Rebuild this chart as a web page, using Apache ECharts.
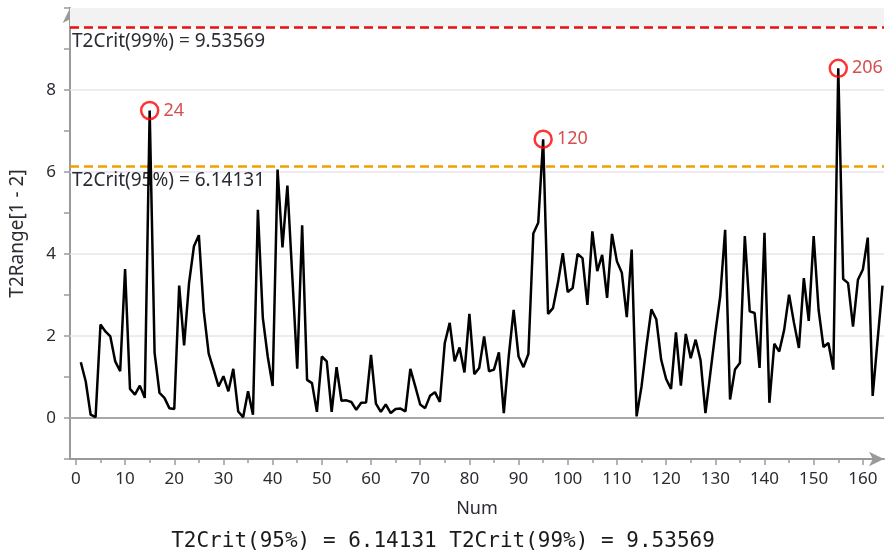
<!DOCTYPE html>
<html>
<head>
<meta charset="utf-8">
<script src="https://cdn.jsdelivr.net/npm/echarts@6/dist/echarts.min.js"></script>
<style>
html,body{margin:0;padding:0;background:#fff;}
#chart{width:886px;height:554px;}
</style>
</head>
<body>
<div id="chart"></div>
<script>
// ---- data ----
const t2Values = [
1.36,0.89,0.08,0.02,2.28,2.11,1.99,1.38,1.14,3.63,
0.71,0.57,0.79,0.49,7.50,1.59,0.61,0.49,0.24,0.22,
3.23,1.77,3.29,4.19,4.46,2.60,1.57,1.18,0.77,1.02,
0.65,1.20,0.16,0.02,0.65,0.08,5.08,2.45,1.50,0.78,
6.06,4.16,5.67,3.45,1.20,4.70,0.93,0.85,0.15,1.50,
1.38,0.15,1.24,0.42,0.43,0.39,0.20,0.37,0.38,1.54,
0.35,0.15,0.33,0.12,0.22,0.23,0.16,1.20,0.77,0.33,
0.24,0.54,0.63,0.39,1.83,2.32,1.38,1.72,1.11,2.54,
1.07,1.22,1.99,1.14,1.18,1.60,0.12,1.50,2.64,1.50,
1.24,1.56,4.50,4.76,6.80,2.54,2.68,3.29,4.02,3.07,
3.17,4.00,3.90,2.76,4.55,3.58,3.98,2.93,4.49,3.82,
3.54,2.46,4.11,0.04,0.77,1.75,2.65,2.41,1.42,0.95,
0.71,2.09,0.79,2.05,1.46,1.91,1.41,0.12,1.10,2.07,
2.97,4.59,0.45,1.18,1.34,4.44,2.60,2.56,1.22,4.52,
0.37,1.81,1.62,2.15,3.01,2.32,1.71,3.41,2.37,4.44,
2.64,1.73,1.83,1.18,8.53,3.39,3.29,2.23,3.37,3.62,
4.40,0.54,1.90,3.23
];
const outlierNums = [15, 95, 155];
const outlierLabels = ['24', '120', '206'];
const crit95 = 6.14131;
const crit99 = 9.53569;
const xLabelTicks = [0,10,20,30,40,50,60,70,80,90,100,110,120,130,140,150,160];
const xMinorTicks = [5,15,25,35,45,55,65,75,85,95,105,115,125,135,145,155];
const yGridValues = [2,4,6,8];
const xName = 'Num';
const yName = 'T2Range[1 - 2]';
const footerText = 'T2Crit(95%) = 6.14131 T2Crit(99%) = 9.53569';

// ---- build ----
const lineData = t2Values.map((v, i) => [i + 1, v]);
const outlierData = outlierNums.map((n, i) => ({ value: [n, t2Values[n - 1]], label: { formatter: outlierLabels[i] } }));

const font = 'Noto Sans';
const chart = echarts.init(document.getElementById('chart'), null, { renderer: 'canvas' });
const axisGray = '#9a9a9a';
const textCol = '#2b2b33';

chart.setOption({
  animation: false,
  backgroundColor: '#ffffff',
  textStyle: { fontFamily: font },
  title: {
    text: footerText,
    left: 'center',
    bottom: 2,
    padding: 0,
    textStyle: { fontFamily: 'DejaVu Sans Mono', fontSize: 21, fontWeight: 'normal', color: '#1a1a1a' }
  },
  grid: { left: 70, right: 2, top: 8, bottom: 95, containLabel: false },
  xAxis: [{
    type: 'value', min: -1.2, max: 164.3,
    name: xName, nameLocation: 'middle', nameGap: 41,
    nameTextStyle: { fontFamily: font, fontSize: 18, color: textCol },
    axisLine: { onZero: false, symbol: ['none', 'arrow'], symbolSize: [11, 15], lineStyle: { color: axisGray, width: 2 } },
    axisTick: { customValues: xLabelTicks, length: 6, lineStyle: { color: axisGray, width: 1.5 } },
    axisLabel: { customValues: xLabelTicks, color: textCol, fontSize: 17, margin: 12, fontFamily: font },
    splitLine: { show: false }
  }, {
    type: 'value', min: -1.2, max: 164.3, position: 'bottom', gridIndex: 0,
    axisLine: { show: false, onZero: false },
    axisTick: { customValues: xMinorTicks, length: 4, lineStyle: { color: axisGray, width: 1.5 } },
    axisLabel: { show: false },
    splitLine: { show: false }
  }],
  yAxis: {
    type: 'value', min: -1, max: 10, interval: 1,
    name: yName, nameLocation: 'middle', nameGap: 43,
    nameTextStyle: { fontFamily: font, fontSize: 19, color: textCol },
    axisLine: { show: true, onZero: false, symbol: ['none', 'arrow'], symbolSize: [11, 15], lineStyle: { color: axisGray, width: 2 } },
    axisTick: { show: true, length: 6, lineStyle: { color: axisGray, width: 1.5 } },
    axisLabel: {
      color: textCol, fontSize: 17, margin: 14, fontFamily: font,
      formatter: v => (v >= 0 && v <= 8 && v % 2 === 0) ? String(v) : ''
    },
    splitLine: { show: false }
  },
  series: [{
    type: 'line',
    data: lineData,
    showSymbol: false,
    symbol: 'none',
    lineStyle: { color: '#000', width: 2.5 },
    z: 5,
    markArea: {
      silent: true,
      itemStyle: { color: '#f2f2f2' },
      data: [[{ yAxis: crit99 }, { yAxis: 10 }]]
    },
    markLine: {
      silent: true,
      symbol: ['none', 'none'],
      data: [
        ...yGridValues.map(v => ({ yAxis: v, lineStyle: { color: '#e6e6e6', width: 1.5, type: 'solid' }, label: { show: false } })),
        { yAxis: 0, lineStyle: { color: '#a8a8a8', width: 2, type: 'solid' }, label: { show: false } },
        { yAxis: crit95, lineStyle: { color: '#f0a000', width: 2.5, type: [9, 5] },
          label: { show: true, position: 'insideStartBottom', distance: [2, 5], formatter: 'T2Crit(95%) = ' + crit95, color: textCol, fontSize: 19, fontFamily: font } },
        { yAxis: crit99, lineStyle: { color: '#e81010', width: 2.5, type: [9, 5] },
          label: { show: true, position: 'insideStartBottom', distance: [2, 5], formatter: 'T2Crit(99%) = ' + crit99, color: textCol, fontSize: 19, fontFamily: font } }
      ]
    }
  }, {
    type: 'scatter',
    data: outlierData,
    symbol: 'circle',
    symbolSize: 17,
    itemStyle: { color: 'rgba(0,0,0,0)', borderColor: '#ff0000', borderWidth: 2.5 },
    label: { show: true, position: 'right', distance: 4, color: '#cc2222', fontSize: 18, fontFamily: font },
    z: 6
  }]
});
</script>
</body>
</html>
